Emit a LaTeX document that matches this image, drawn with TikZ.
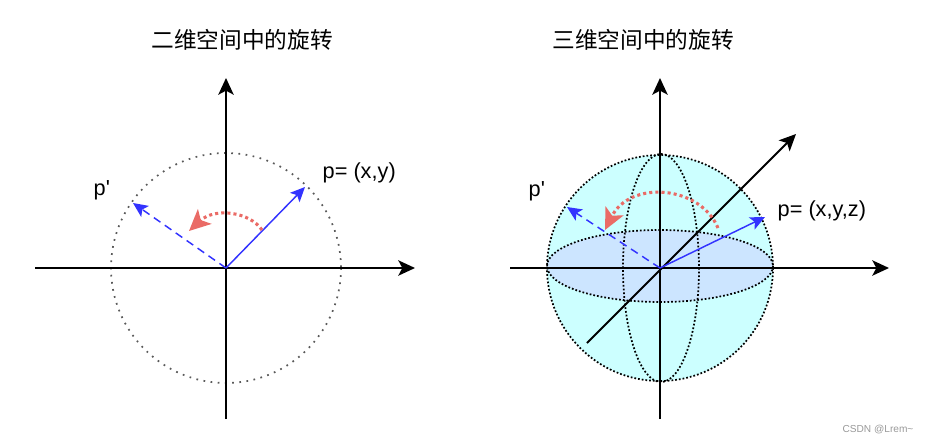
\documentclass[tikz,border=0pt]{standalone}
\usepackage{fontspec}
\setmainfont{Liberation Sans}
\newfontfamily\cjk{Noto Sans CJK SC}
\usetikzlibrary{arrows.meta}
\definecolor{vecblue}{RGB}{51,51,255}
\definecolor{rotred}{RGB}{234,107,102}
\definecolor{spherefill}{RGB}{204,255,255}
\definecolor{planefill}{RGB}{204,229,255}

\begin{document}
\begin{tikzpicture}[x=0.75pt,y=-0.75pt,
    axe/.style={line width=1.5pt,-{Stealth[length=12.5pt,width=11.5pt,inset=3pt]}},
    vec/.style={vecblue,line width=1.1pt,-{Stealth[length=11pt,width=10pt,inset=2.5pt]}},
    rot/.style={rotred,line width=2.3pt,dash pattern=on 2.3pt off 2.3pt,
                -{Stealth[length=16pt,width=15pt,inset=4pt]}},
    dots/.style={line width=1.3pt,dash pattern=on 1.3pt off 1.5pt},
    lab/.style={font=\fontsize{16.3}{18}\selectfont,anchor=west},
    titre/.style={font=\cjk\fontsize{17}{20}\selectfont}]
  \useasboundingbox (0,0) rectangle (929,444);
  % 2D: origin (226,268), radius 115
  \coordinate (O1) at (226,268);
  \coordinate (x1a) at (35,268);   \coordinate (x1b) at (415,268);
  \coordinate (y1a) at (226,419);  \coordinate (y1b) at (226,78);
  \coordinate (p1) at (305,187);   \coordinate (q1) at (133,203);
  \coordinate (r1a) at (262,230);  \coordinate (r1b) at (189,231);
  \node[titre] (t1) at (242,40) {二维空间中的旋转};
  \draw[gray!70!black,line width=1.3pt,dash pattern=on 1.3pt off 4.1pt] (O1) circle[radius=115];
  \draw[axe] (x1a) -- (x1b);
  \draw[axe] (y1a) -- (y1b);
  \draw[vec] (O1) -- (p1);
  \draw[vec,dashed,dash pattern=on 6pt off 4pt] (O1) -- (q1);
  \draw[rot] (r1a) .. controls (250,212) and (215,207) .. (r1b);
  \node[lab] (lp1) at (318,173) {p= (x,y)};
  \node[lab] (lq1) at (89,190) {p\textquotesingle};
  % 3D: origin (660,268), radius 113
  \coordinate (O2) at (660,268);
  \coordinate (x2a) at (510,268);  \coordinate (x2b) at (889,268);
  \coordinate (y2a) at (660,419);  \coordinate (y2b) at (660,78);
  \coordinate (z2a) at (587,343);  \coordinate (z2b) at (796,134);
  \coordinate (p2) at (765,217);   \coordinate (q2) at (567,207);
  \coordinate (r2a) at (718,228);  \coordinate (r2b) at (605,230);
  \node[titre] (t2) at (643,40) {三维空间中的旋转};
  \fill[spherefill] (O2) circle[radius=113];
  \fill[planefill] (660,266) ellipse[x radius=113,y radius=36];
  \draw[dots] (O2) circle[radius=113];
  \draw[dots] (660,266) ellipse[x radius=113,y radius=36];
  \draw[dots] (661,268) ellipse[x radius=38,y radius=114];
  \draw[axe] (x2a) -- (x2b);
  \draw[axe] (y2a) -- (y2b);
  \draw[axe] (z2a) -- (z2b);
  \draw[vec] (O2) -- (p2);
  \draw[vec,dashed,dash pattern=on 6pt off 4pt] (O2) -- (q2);
  \draw[rot] (r2a) .. controls (700,185) and (630,180) .. (r2b);
  \node[lab] (lp2) at (773,211) {p= (x,y,z)};
  \node[lab] (lq2) at (524,191) {p\textquotesingle};
  \node[gray!80,font=\fontsize{7.6}{9}\selectfont] (wm) at (878,430) {CSDN @Lrem\textasciitilde};
\end{tikzpicture}
\end{document}
